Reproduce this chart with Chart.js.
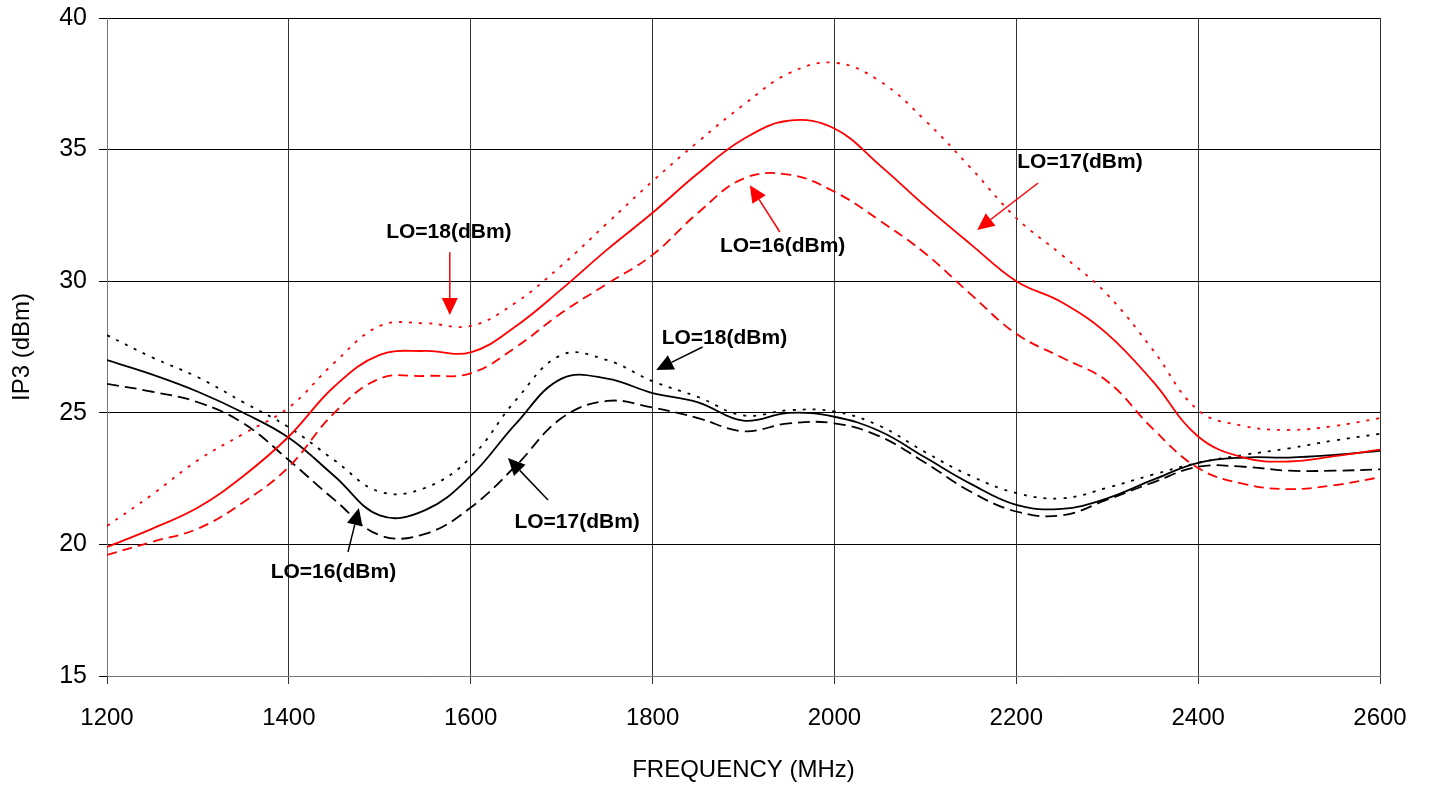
<!DOCTYPE html>
<html>
<head>
<meta charset="utf-8">
<script src="https://cdn.jsdelivr.net/npm/chart.js@4/dist/chart.umd.min.js"></script>
<style>
  html, body { margin: 0; padding: 0; background: #fff; }
  #wrap { width: 1434px; height: 789px; }
</style>
</head>
<body>
<div id="wrap"><canvas id="ip3-chart" width="1434" height="789"></canvas></div>
<script>
// frequency points (MHz)
var freq = [1200, 1250, 1300, 1350, 1400, 1450, 1500, 1550, 1600, 1650, 1700, 1750, 1800, 1850, 1900,
            1950, 2000, 2050, 2100, 2150, 2200, 2250, 2300, 2350, 2400, 2450, 2500, 2550, 2600];

// IP3 (dBm), red group
var red18 = [20.7, 21.9, 23.2, 24.2, 25.2, 26.9, 28.3, 28.4, 28.3, 29.2, 30.6, 32.2, 33.8, 35.3, 36.7,
             37.9, 38.3, 37.6, 36.1, 34.3, 32.4, 31.0, 29.5, 27.4, 25.1, 24.5, 24.35, 24.5, 24.8];
var red17 = [19.9, 20.6, 21.4, 22.6, 24.1, 26.0, 27.2, 27.35, 27.3, 28.3, 29.7, 31.2, 32.6, 34.1, 35.4,
             36.1, 35.8, 34.4, 32.85, 31.4, 30.0, 29.2, 28.0, 26.2, 24.1, 23.3, 23.15, 23.35, 23.6];
var red16 = [19.6, 20.1, 20.6, 21.6, 22.95, 25.0, 26.3, 26.4, 26.5, 27.5, 28.8, 29.9, 31.0, 32.6, 33.9,
             34.05, 33.4, 32.3, 31.05, 29.5, 28.0, 27.1, 26.2, 24.4, 22.9, 22.3, 22.1, 22.25, 22.55];

// IP3 (dBm), black group
var blk18 = [27.95, 27.1, 26.35, 25.4, 24.45, 23.2, 22.0, 22.15, 23.3, 25.5, 27.2, 27.0, 26.2, 25.6, 24.9,
             25.1, 25.05, 24.5, 23.5, 22.6, 21.95, 21.75, 22.15, 22.65, 23.1, 23.4, 23.65, 23.95, 24.2];
var blk17 = [27.0, 26.45, 25.8, 25.0, 24.05, 22.6, 21.1, 21.3, 22.6, 24.6, 26.3, 26.3, 25.75, 25.4, 24.7,
             25.0, 24.85, 24.3, 23.3, 22.3, 21.5, 21.35, 21.75, 22.45, 23.1, 23.3, 23.3, 23.4, 23.55];
var blk16 = [26.1, 25.8, 25.4, 24.6, 23.2, 21.7, 20.35, 20.4, 21.4, 23.0, 24.8, 25.45, 25.2, 24.8, 24.3,
             24.6, 24.6, 24.1, 23.1, 22.0, 21.25, 21.1, 21.7, 22.35, 22.95, 22.95, 22.8, 22.8, 22.85];

var xTicks = [1200, 1400, 1600, 1800, 2000, 2200, 2400, 2600];
var yTicks = [15, 20, 25, 30, 35, 40];

// call-out labels: text at (tx,ty), arrow from (ax,ay) to tip (bx,by), all in data units
var callouts = [
    { text: "LO=18(dBm)", tx: 1576, ty: 31.87, ax: 1577, ay: 31.1,  bx: 1577, by: 28.72, color: "#ff0000" },
    { text: "LO=16(dBm)", tx: 1943, ty: 31.34, ax: 1940, ay: 31.87, bx: 1907, by: 33.65, color: "#ff0000" },
    { text: "LO=17(dBm)", tx: 2270, ty: 34.53, ax: 2224, ay: 33.73, bx: 2157, by: 31.95, color: "#ff0000" },
    { text: "LO=18(dBm)", tx: 1879, ty: 27.84, ax: 1855, ay: 27.5,  bx: 1804, by: 26.63, color: "#000000" },
    { text: "LO=17(dBm)", tx: 1717, ty: 20.85, ax: 1685, ay: 21.69, bx: 1641, by: 23.28, color: "#000000" },
    { text: "LO=16(dBm)", tx: 1449, ty: 18.95, ax: 1465, ay: 19.71, bx: 1477, by: 21.38, color: "#000000" }
];

function pts(vals) {
    return freq.map(function (f, i) { return { x: f, y: vals[i] }; });
}

function series(label, vals, color, dash) {
    return {
        label: label,
        data: pts(vals),
        borderColor: color,
        borderWidth: 1.8,
        borderDash: dash,
        pointRadius: 0,
        fill: false,
        tension: 0.4
    };
}

var calloutPlugin = {
    id: 'callouts',
    afterDatasetsDraw: function (chart) {
        var ctx = chart.ctx, sx = chart.scales.x, sy = chart.scales.y;
        ctx.save();
        callouts.forEach(function (c) {
            var ax = sx.getPixelForValue(c.ax), ay = sy.getPixelForValue(c.ay);
            var bx = sx.getPixelForValue(c.bx), by = sy.getPixelForValue(c.by);
            var ang = Math.atan2(by - ay, bx - ax);
            var hl = 17, hw = 8;
            var baseX = bx - hl * Math.cos(ang), baseY = by - hl * Math.sin(ang);
            ctx.strokeStyle = c.color;
            ctx.fillStyle = c.color;
            ctx.lineWidth = 1.5;
            ctx.setLineDash([]);
            ctx.beginPath();
            ctx.moveTo(ax, ay);
            ctx.lineTo(baseX, baseY);
            ctx.stroke();
            ctx.beginPath();
            ctx.moveTo(bx, by);
            ctx.lineTo(baseX + hw * Math.sin(ang), baseY - hw * Math.cos(ang));
            ctx.lineTo(baseX - hw * Math.sin(ang), baseY + hw * Math.cos(ang));
            ctx.closePath();
            ctx.fill();

            ctx.fillStyle = "#000";
            ctx.font = "bold 21px 'Liberation Sans', Arial, sans-serif";
            ctx.textAlign = "center";
            ctx.textBaseline = "middle";
            ctx.fillText(c.text, sx.getPixelForValue(c.tx), sy.getPixelForValue(c.ty));
        });
        ctx.restore();
    }
};

Chart.defaults.font.family = "'Liberation Sans', Arial, sans-serif";
Chart.defaults.color = "#000";

new Chart(document.getElementById("ip3-chart"), {
    type: 'line',
    data: {
        datasets: [
            series("LO=18 red", red18, "#ff0000", [3, 7]),
            series("LO=17 red", red17, "#ff0000", []),
            series("LO=16 red", red16, "#ff0000", [10, 6]),
            series("LO=18 black", blk18, "#000000", [3, 7]),
            series("LO=17 black", blk17, "#000000", []),
            series("LO=16 black", blk16, "#000000", [12, 6])
        ]
    },
    options: {
        responsive: false,
        animation: false,
        layout: { padding: { top: 4, right: 54, left: 4, bottom: 0 } },
        plugins: {
            legend: { display: false },
            tooltip: { enabled: false }
        },
        scales: {
            x: {
                type: 'linear',
                min: 1200,
                max: 2600,
                afterBuildTicks: function (s) { s.ticks = xTicks.map(function (v) { return { value: v }; }); },
                afterFit: function (s) { s.height = 789 - 676; },
                grid: { color: "#333", lineWidth: 1, tickLength: 8, drawTicks: true },
                border: { color: "#777" },
                ticks: {
                    font: { size: 24 }, padding: 20, maxRotation: 0,
                    callback: function (v) { return String(v); }
                },
                title: { display: true, text: "FREQUENCY (MHz)", font: { size: 24 }, padding: { top: 0 } }
            },
            y: {
                min: 15,
                max: 40,
                afterBuildTicks: function (s) { s.ticks = yTicks.map(function (v) { return { value: v }; }); },
                afterFit: function (s) { s.width = 103; s.paddingTop = 18; },
                grid: { color: "#000", lineWidth: 1, tickLength: 8 },
                border: { color: "#777" },
                ticks: { font: { size: 25 }, padding: 12 },
                title: { display: true, text: "IP3 (dBm)", font: { size: 24 }, padding: { bottom: 4 } }
            }
        }
    },
    plugins: [calloutPlugin]
});
</script>
</body>
</html>
